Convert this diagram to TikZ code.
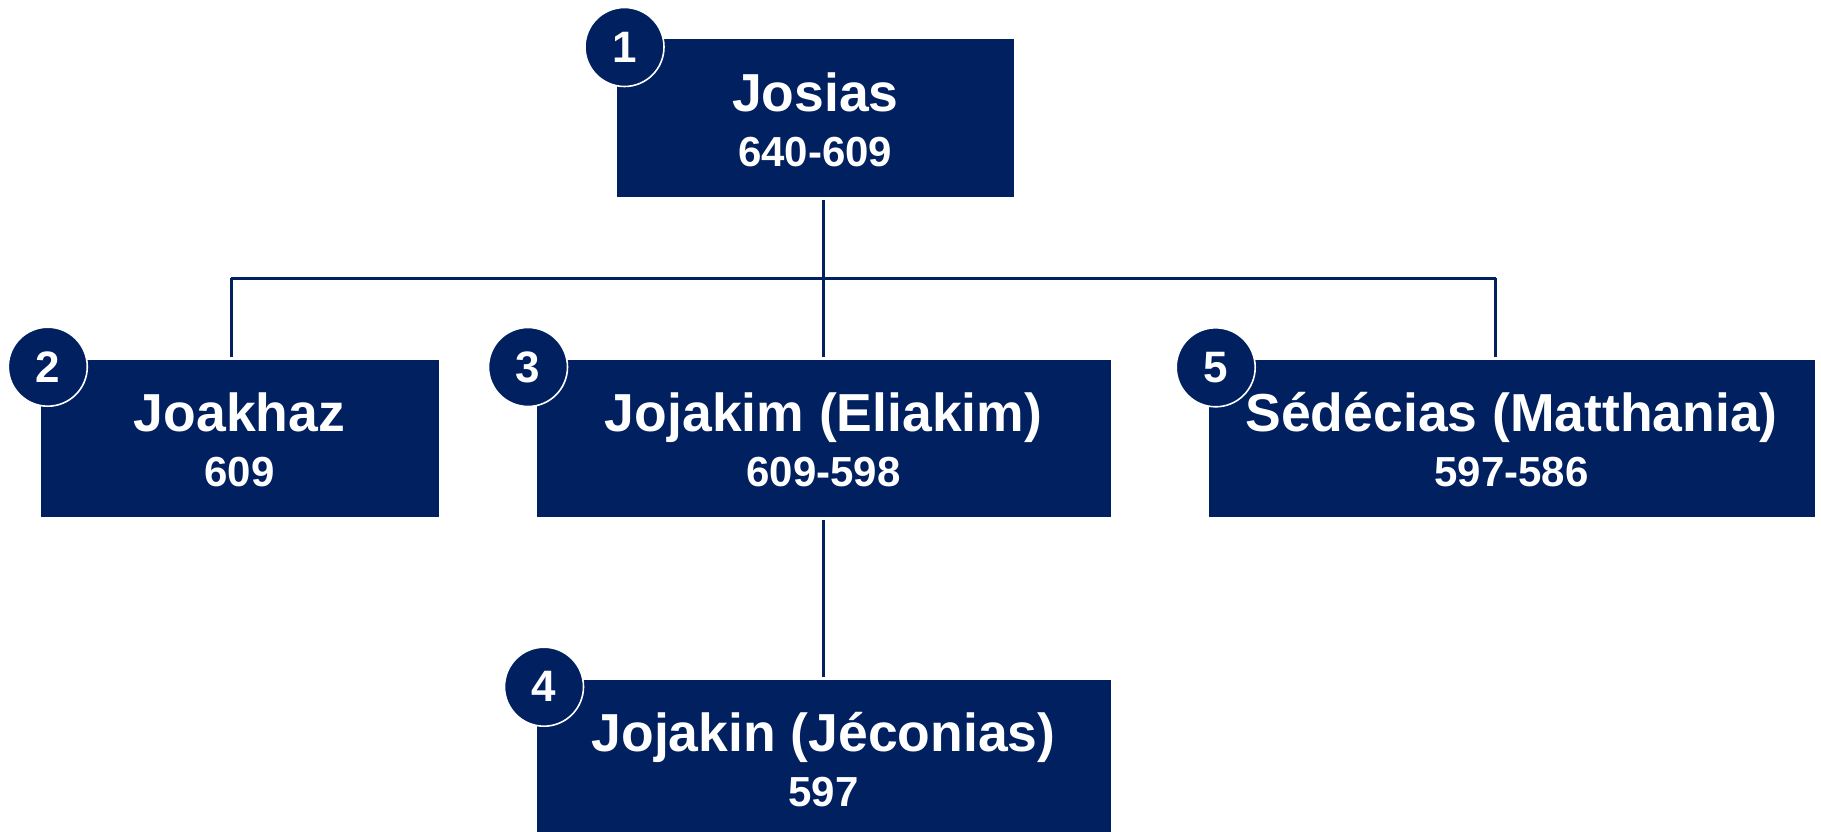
\documentclass[tikz,border=0pt]{standalone}
\usepackage{fontspec}
\setmainfont{Liberation Sans}
\definecolor{navy}{RGB}{0,32,96}
\begin{document}
\begin{tikzpicture}[x=1pt,y=-1pt,
  kingbox/.style={rectangle,fill=navy,draw=none,inner sep=0pt,anchor=north west},
  numdisc/.style={circle,fill=navy,draw=white,line width=1.6pt,minimum size=79pt,inner sep=0pt,
    text=white,font=\fontsize{44}{44}\selectfont\bfseries},
  kname/.style={anchor=base,text=white,inner sep=0pt,font=\fontsize{53.5}{60}\selectfont\bfseries},
  kyear/.style={anchor=base,text=white,inner sep=0pt,font=\fontsize{42}{46}\selectfont\bfseries},
  link/.style={draw=navy,line width=3pt}]
\clip (0,0) rectangle (1821,832);
\fill[white] (0,0) rectangle (1821,832);
% boxes
\node[kingbox,minimum width=397.3pt,minimum height=157.4pt] (b1) at (616.7,39.3) {};
\node[kingbox,minimum width=397.6pt,minimum height=157.7pt] (b2) at (40.7,359.3) {};
\node[kingbox,minimum width=574pt,minimum height=157.4pt] (b3) at (536.5,359.3) {};
\node[kingbox,minimum width=606pt,minimum height=157.4pt] (b5) at (1208.6,359.3) {};
\node[kingbox,minimum width=573.5pt,minimum height=157.4pt] (b4) at (536.9,679.3) {};
% connectors
\coordinate (jt) at (823.3,278.3);
\coordinate (jl) at (231.3,278.3);
\coordinate (jr) at (1495.7,278.3);
\draw[link] ([yshift=-2.6pt]b1.south -| jt) -- (jt);
\draw[link] (jl) -- (jr);
\draw[link] (jl) -- ([yshift=2.6pt]b2.north -| jl);
\draw[link] (jt) -- ([yshift=2.6pt]b3.north -| jt);
\draw[link] (jr) -- ([yshift=2.6pt]b5.north -| jr);
\draw[link] ([yshift=-2.6pt]b3.south -| jt) -- ([yshift=2.6pt]b4.north -| jt);
% texts
\node[kname] (n1) at (815.3,111.7) {Josias};
\node[kyear] (y1) at (815.3,166.7) {640-609};
\node[kname] (n2) at (239.5,431.7) {Joakhaz};
\node[kyear] (y2) at (239.5,486.7) {609};
\node[kname] (n3) at (823.5,431.7) {Jojakim (Eliakim)};
\node[kyear] (y3) at (823.5,486.7) {609-598};
\node[kname] (n5) at (1511.6,431.7) {Sédécias (Matthania)};
\node[kyear] (y5) at (1511.6,486.7) {597-586};
\node[kname] (n4) at (823.6,751.7) {Jojakin (Jéconias)};
\node[kyear] (y4) at (823.6,806.7) {597};
% number discs
\node[numdisc] (c1) at (624.5,47) {1};
\node[numdisc] (c2) at (47.8,366.7) {2};
\node[numdisc] (c3) at (528,367) {3};
\node[numdisc] (c5) at (1215.7,367.3) {5};
\node[numdisc] (c4) at (544,686.7) {4};
\end{tikzpicture}
\end{document}
